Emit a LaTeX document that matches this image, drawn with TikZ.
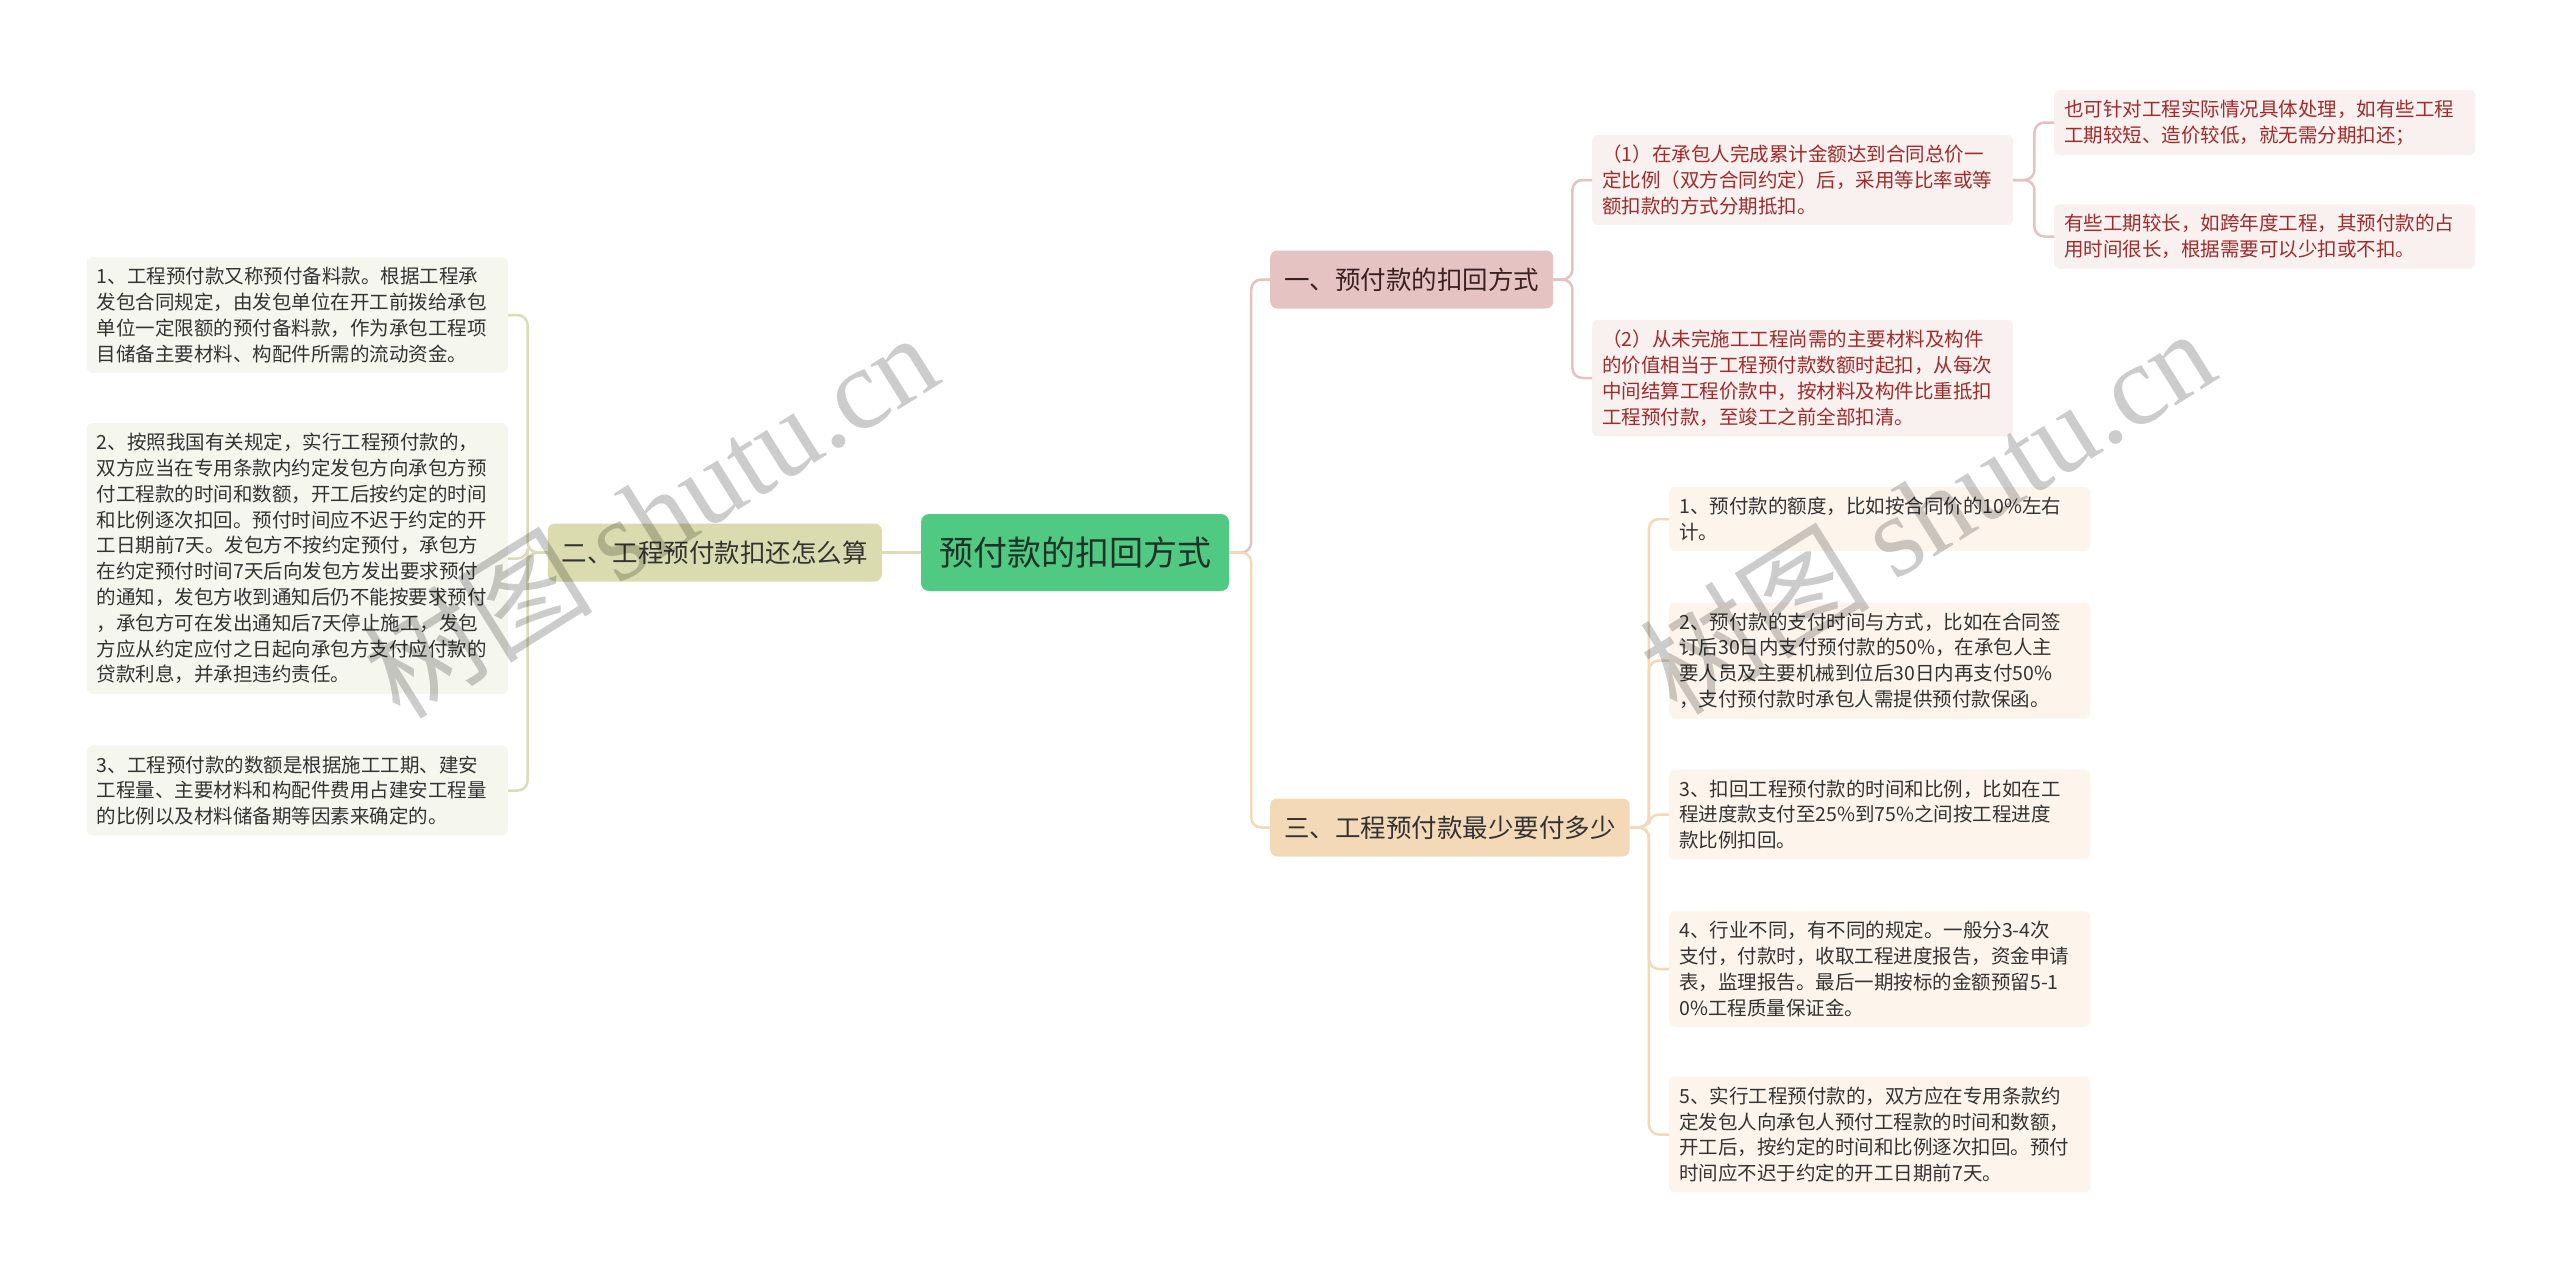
\documentclass[tikz,border=0pt]{standalone}
\usepackage{fontspec}
\setmainfont{Noto Sans CJK SC}
\newfontfamily\cjk{Noto Sans CJK SC}
\newfontfamily\wmserif{Liberation Serif}
\XeTeXlinebreaklocale "zh"
\XeTeXlinebreakskip=0pt plus 1pt
\definecolor{rootfill}{HTML}{50C983}
\definecolor{roottext}{HTML}{1E3326}
\definecolor{aFill}{HTML}{E6C3C3}
\definecolor{aText}{HTML}{3B2222}
\definecolor{aLine}{HTML}{E4C2C2}
\definecolor{aLeafFill}{HTML}{F9F0F0}
\definecolor{aLeafText}{HTML}{A12B2B}
\definecolor{bFill}{HTML}{DADCB0}
\definecolor{bLine}{HTML}{DCDDB8}
\definecolor{bLeafFill}{HTML}{F5F6EE}
\definecolor{cFill}{HTML}{F4D9B8}
\definecolor{cLine}{HTML}{F2D9B8}
\definecolor{cLeafFill}{HTML}{FDF5EC}
\definecolor{darktext}{HTML}{333333}
\begin{document}
\begin{tikzpicture}[x=1pt,y=-1pt,
  leafbase/.style={rounded corners=6pt, inner xsep=10pt, inner ysep=10pt,
    font=\cjk\fontsize{19.5}{25.8}\selectfont, align=left, text width=401pt},
  leafA/.style={leafbase, fill=aLeafFill, text=aLeafText},
  leafB/.style={leafbase, fill=bLeafFill, text=darktext},
  leafC/.style={leafbase, fill=cLeafFill, text=darktext},
  topic/.style={rounded corners=7pt, inner xsep=14pt, minimum height=58pt,
    font=\cjk\fontsize{25.5}{30}\selectfont},
  rootbox/.style={rounded corners=8pt, inner xsep=18pt, minimum height=77pt,
    fill=rootfill, text=roottext, font=\cjk\fontsize{34}{40}\selectfont},
  conn/.style={line width=2.5pt, rounded corners=10pt},
  wm/.style={rotate=32, text=black, opacity=0.2}
]
\useasboundingbox (0,0) rectangle (2560,1283);
\fill[white] (0,0) rectangle (2560,1283);

% root
\node[rootbox] (root) at (1075,552.5) {预付款的扣回方式};

% level 1
\node[topic, fill=aFill, text=aText, anchor=west] (b1) at (1270,279.5) {一、预付款的扣回方式};
\node[topic, fill=bFill, text=darktext, anchor=east] (b2) at (882,552.5) {二、工程预付款扣还怎么算};
\node[topic, fill=cFill, text=darktext, anchor=west] (b3) at (1270,827.5) {三、工程预付款最少要付多少};

% branch 1 leaves
\node[leafA, anchor=west] (c1) at (1592,180) {（1）在承包人完成累计金额达到合同总价一\\定比例（双方合同约定）后，采用等比率或等\\额扣款的方式分期抵扣。};
\node[leafA, anchor=west] (c2) at (1592,378) {（2）从未完施工工程尚需的主要材料及构件\\的价值相当于工程预付款数额时起扣，从每次\\中间结算工程价款中，按材料及构件比重抵扣\\工程预付款，至竣工之前全部扣清。};
\node[leafA, anchor=west] (d1) at (2054,122.5) {也可针对工程实际情况具体处理，如有些工程\\工期较短、造价较低，就无需分期扣还；};
\node[leafA, anchor=west] (d2) at (2054,236.5) {有些工期较长，如跨年度工程，其预付款的占\\用时间很长，根据需要可以少扣或不扣。};

% branch 2 leaves
\node[leafB, anchor=east] (l1) at (508,315) {1、工程预付款又称预付备料款。根据工程承\\发包合同规定，由发包单位在开工前拨给承包\\单位一定限额的预付备料款，作为承包工程项\\目储备主要材料、构配件所需的流动资金。};
\node[leafB, anchor=east] (l2) at (508,558.5) {2、按照我国有关规定，实行工程预付款的，\\双方应当在专用条款内约定发包方向承包方预\\付工程款的时间和数额，开工后按约定的时间\\和比例逐次扣回。预付时间应不迟于约定的开\\工日期前7天。发包方不按约定预付，承包方\\在约定预付时间7天后向发包方发出要求预付\\的通知，发包方收到通知后仍不能按要求预付\\，承包方可在发出通知后7天停止施工，发包\\方应从约定应付之日起向承包方支付应付款的\\贷款利息，并承担违约责任。};
\node[leafB, anchor=east] (l3) at (508,790.5) {3、工程预付款的数额是根据施工工期、建安\\工程量、主要材料和构配件费用占建安工程量\\的比例以及材料储备期等因素来确定的。};

% branch 3 leaves
\node[leafC, anchor=west] (r1) at (1669,519) {1、预付款的额度，比如按合同价的10\%左右\\计。};
\node[leafC, anchor=west] (r2) at (1669,660.5) {2、预付款的支付时间与方式，比如在合同签\\订后30日内支付预付款的50\%，在承包人主\\要人员及主要机械到位后30日内再支付50\%\\，支付预付款时承包人需提供预付款保函。};
\node[leafC, anchor=west] (r3) at (1669,814.5) {3、扣回工程预付款的时间和比例，比如在工\\程进度款支付至25\%到75\%之间按工程进度\\款比例扣回。};
\node[leafC, anchor=west] (r4) at (1669,969) {4、行业不同，有不同的规定。一般分3-4次\\支付，付款时，收取工程进度报告，资金申请\\表，监理报告。最后一期按标的金额预留5-1\\0\%工程质量保证金。};
\node[leafC, anchor=west] (r5) at (1669,1134.5) {5、实行工程预付款的，双方应在专用条款约\\定发包人向承包人预付工程款的时间和数额，\\开工后，按约定的时间和比例逐次扣回。预付\\时间应不迟于约定的开工日期前7天。};

% connectors
\begin{scope}[on background layer/.style={}]
\draw[conn, bLine] (root.west) -- (b2.east);
\draw[conn, aLine] (root.east) -- ++(22,0) |- (b1.west);
\draw[conn, cLine] (root.east) -- ++(22,0) |- (b3.west);
\draw[conn, aLine] (b1.east) -- ++(19,0) |- (c1.west);
\draw[conn, aLine] (b1.east) -- ++(19,0) |- (c2.west);
\draw[conn, aLine] (c1.east) -- ++(21,0) |- (d1.west);
\draw[conn, aLine] (c1.east) -- ++(21,0) |- (d2.west);
\draw[conn, bLine] (b2.west) -- ++(-20,0) |- (l1.east);
\draw[conn, bLine] (b2.west) -- ++(-20,0) |- (l2.east);
\draw[conn, bLine] (b2.west) -- ++(-20,0) |- (l3.east);
\foreach \r in {r1,r2,r3,r4,r5}
  \draw[conn, cLine] (b3.east) -- ++(19,0) |- (\r.west);
\end{scope}

% watermarks
\node[wm] (wm1) at (650,514) {\fontsize{115}{120}\selectfont\cjk 树图\ \wmserif shutu.cn};
\node[wm] (wm2) at (1927,510) {\fontsize{115}{120}\selectfont\cjk 树图\ \wmserif shutu.cn};
\end{tikzpicture}
\end{document}
